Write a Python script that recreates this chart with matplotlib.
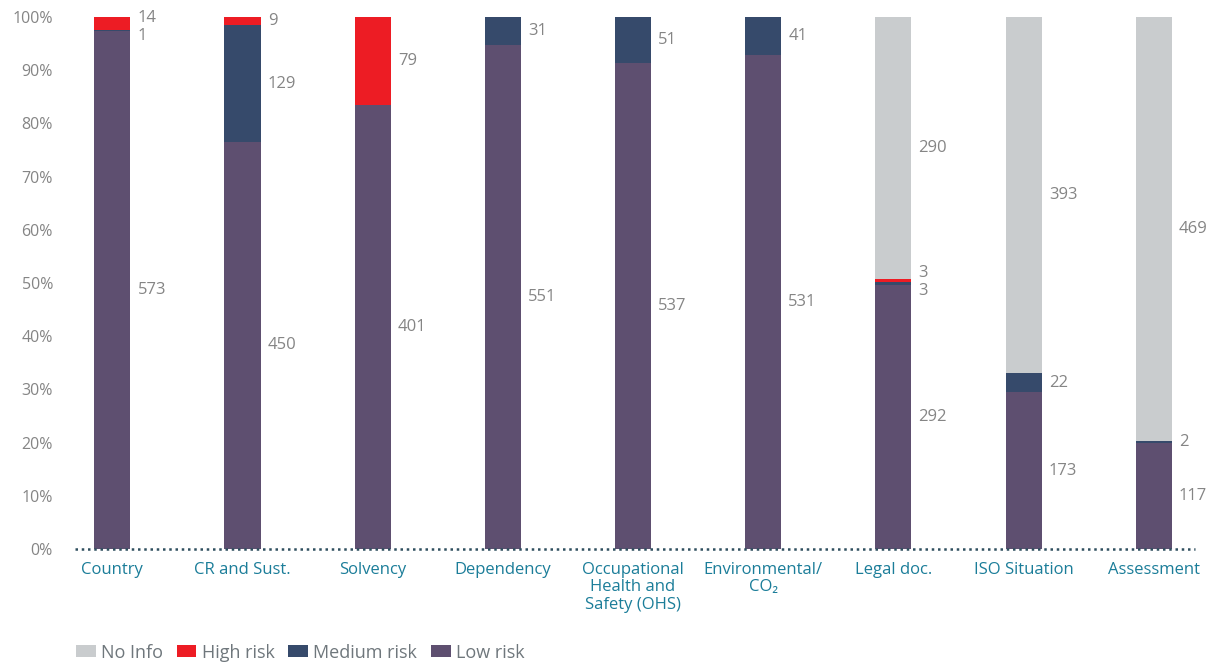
import matplotlib.pyplot as plt
from matplotlib.patches import Patch

# ---------------------------------------------------------------------------
# Data (counts per category, stacked bottom -> top: low, medium, high, no info)
# ---------------------------------------------------------------------------
categories = ["Country", "CR and Sust.", "Solvency", "Dependency",
              "Occupational\nHealth and\nSafety (OHS)", "Environmental/\nCO\u2082",
              "Legal doc.", "ISO Situation", "Assessment"]

low_risk = [573, 450, 401, 551, 537, 531, 292, 173, 117]
medium_risk = [1, 129, 0, 31, 51, 41, 3, 22, 2]
high_risk = [14, 9, 79, 0, 0, 0, 3, 0, 0]
no_info = [0, 0, 0, 0, 0, 0, 290, 393, 469]

y_ticks = [0, 10, 20, 30, 40, 50, 60, 70, 80, 90, 100]

# ---------------------------------------------------------------------------
# Style
# ---------------------------------------------------------------------------
plt.rcParams['font.family'] = ['Open Sans', 'DejaVu Sans']

SERIES = [
    ("Low risk", low_risk, "#5e4f70"),
    ("Medium risk", medium_risk, "#364a6b"),
    ("High risk", high_risk, "#ed1c24"),
    ("No Info", no_info, "#c9ccce"),
]
LABEL_GRAY = "#858585"
LEGEND_GRAY = "#6f777c"
CAT_COLOR = "#1b7d99"
BAR_W = 0.277
MIN_GAP = 0.034

fig = plt.figure(figsize=(12.13, 6.66), dpi=100)
ax = fig.add_axes([0.062, 1 - 549 / 666, 0.923, (549 - 17) / 666])

x = list(range(len(categories)))
totals = [sum(s[1][i] for s in SERIES) for i in x]

bottoms = [0.0] * len(x)
label_pos = [[] for _ in x]
for name, vals, color in SERIES:
    fracs = [v / t for v, t in zip(vals, totals)]
    ax.bar(x, fracs, BAR_W, bottom=bottoms, color=color, linewidth=0)
    for i, (v, f) in enumerate(zip(vals, fracs)):
        if v > 0:
            label_pos[i].append([bottoms[i] + f / 2, v])
    bottoms = [b + f for b, f in zip(bottoms, fracs)]

# value labels, nudged apart where segments are tiny
for i, labs in enumerate(label_pos):
    labs.sort()
    for k in range(len(labs) - 1):
        gap = labs[k + 1][0] - labs[k][0]
        if gap < MIN_GAP:
            shift = (MIN_GAP - gap) / 2
            labs[k][0] -= shift
            labs[k + 1][0] += shift
    for yv, v in labs:
        ax.text(i + BAR_W / 2 + 0.055, yv, str(v), ha='left', va='center',
                fontsize=12, color=LABEL_GRAY)

ax.set_xlim(-0.285, len(x) - 1 + 0.315)
ax.set_ylim(0, 1.0)
ax.set_yticks([t / 100 for t in y_ticks])
ax.set_yticklabels([f"{t}%" for t in y_ticks], fontsize=11.5, color=LABEL_GRAY)
ax.set_xticks(x)
ax.set_xticklabels(categories, fontsize=12, color=CAT_COLOR, linespacing=1.15,
                   va='top')
ax.tick_params(axis='both', length=0)
ax.tick_params(axis='x', pad=9)
ax.tick_params(axis='y', pad=16)
for side in ['top', 'right', 'left', 'bottom']:
    ax.spines[side].set_visible(False)
ax.axhline(0, color="#2f4f5f", linestyle=(0, (1, 1.5)), linewidth=1.8,
           clip_on=False)

handles = [Patch(facecolor=c, label=n) for n, _, c in reversed(SERIES)]
fig.legend(handles=handles, loc='lower left', bbox_to_anchor=(0.049, -0.018),
           ncol=4, frameon=False, fontsize=13, handlelength=1.1,
           handleheight=0.66, handletextpad=0.3, columnspacing=0.75,
           labelcolor=LEGEND_GRAY)

fig.savefig("out.png", dpi=100)
